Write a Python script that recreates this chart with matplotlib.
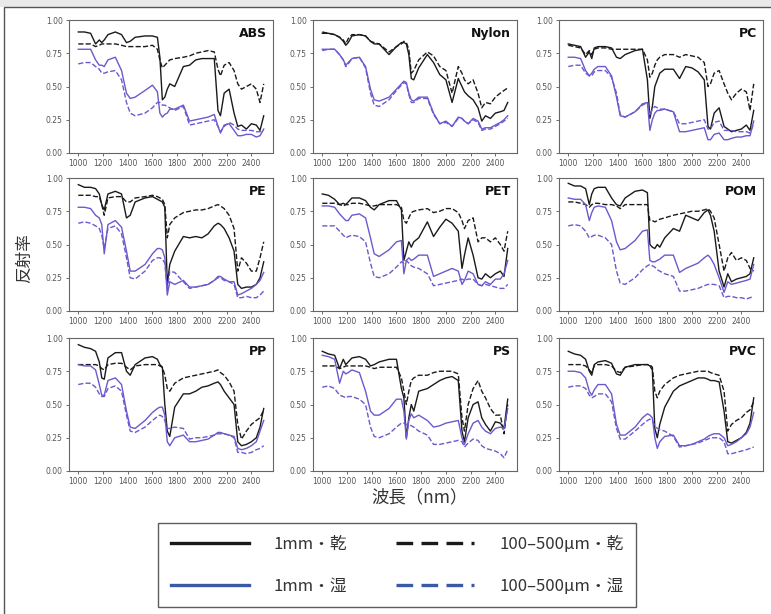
import matplotlib.pyplot as plt
from matplotlib.lines import Line2D
from matplotlib.patches import Rectangle

plt.rcParams['font.family'] = ['Noto Sans CJK JP', 'DejaVu Sans']

# 波長（共通グリッド, nm）
wavelength = [1000, 1050, 1100, 1140, 1170, 1190, 1210, 1240, 1300, 1350,
              1390, 1420, 1460, 1540, 1600, 1640, 1660, 1680, 1700, 1720,
              1740, 1780, 1850, 1900, 1950, 2000, 2050, 2100, 2130, 2150,
              2180, 2220, 2260, 2290, 2320, 2360, 2400, 2440, 2470, 2500]

# ABS
abs_dry_1mm = [.91, .91, .90, .82, .85, .83, .85, .89, .91, .89,
               .83, .84, .87, .88, .88, .87, .72, .40, .42, .48,
               .52, .50, .65, .66, .70, .71, .71, .71, .32, .28,
               .45, .48, .30, .20, .21, .18, .22, .21, .17, .28]
abs_dry_fine = [.82, .82, .82, .80, .81, .82, .82, .82, .82, .81,
                .80, .80, .80, .80, .81, .78, .70, .64, .66, .68,
                .70, .71, .72, .73, .75, .76, .77, .76, .63, .58,
                .66, .68, .62, .52, .48, .50, .52, .48, .38, .52]
abs_wet_1mm = [.78, .78, .78, .70, .66, .66, .65, .70, .72, .62,
               .45, .41, .42, .47, .51, .46, .30, .27, .29, .30,
               .33, .33, .36, .24, .25, .26, .27, .29, .20, .15,
               .21, .22, .17, .13, .13, .14, .14, .12, .13, .18]
abs_wet_fine = [.67, .68, .68, .65, .63, .60, .60, .61, .62, .55,
                .38, .30, .28, .30, .34, .38, .38, .36, .36, .35,
                .34, .32, .35, .21, .22, .23, .24, .25, .20, .16,
                .20, .23, .21, .18, .17, .17, .17, .16, .16, .17]

# Nylon
nylon_dry_1mm = [.90, .90, .89, .87, .84, .81, .83, .88, .89, .88,
                 .84, .82, .82, .74, .80, .83, .83, .82, .74, .56,
                 .55, .64, .74, .68, .59, .55, .38, .56, .50, .46,
                 .43, .40, .34, .24, .28, .26, .30, .31, .32, .38]
nylon_dry_fine = [.91, .90, .89, .87, .85, .82, .86, .89, .89, .88,
                  .84, .83, .82, .76, .80, .82, .84, .83, .78, .60,
                  .62, .70, .76, .73, .65, .62, .45, .65, .60, .55,
                  .52, .55, .45, .34, .38, .37, .42, .45, .47, .49]
nylon_wet_1mm = [.78, .78, .78, .74, .70, .66, .68, .71, .72, .65,
                 .48, .40, .39, .42, .48, .52, .54, .53, .45, .40,
                 .39, .42, .42, .30, .22, .24, .20, .27, .26, .24,
                 .22, .26, .24, .18, .19, .19, .21, .23, .25, .28]
nylon_wet_fine = [.77, .78, .78, .74, .70, .65, .67, .71, .72, .64,
                  .45, .36, .35, .40, .47, .51, .53, .52, .44, .38,
                  .38, .41, .41, .29, .22, .23, .20, .26, .26, .24,
                  .22, .25, .23, .17, .18, .18, .20, .22, .24, .26]

# PC
pc_dry_1mm = [.82, .81, .80, .72, .76, .71, .79, .80, .80, .79,
              .72, .71, .74, .77, .78, .55, .26, .35, .50, .55,
              .60, .63, .63, .56, .65, .64, .61, .55, .20, .18,
              .30, .34, .20, .18, .16, .17, .18, .21, .17, .32]
pc_dry_fine = [.81, .80, .79, .74, .77, .74, .78, .79, .79, .78,
               .78, .78, .78, .78, .78, .70, .57, .60, .66, .70,
               .72, .74, .74, .72, .74, .73, .72, .68, .50, .52,
               .60, .62, .52, .45, .40, .45, .48, .46, .32, .52]
pc_wet_1mm = [.72, .72, .71, .62, .58, .60, .63, .65, .65, .58,
              .42, .28, .27, .31, .37, .38, .17, .25, .30, .32,
              .32, .33, .31, .16, .16, .17, .18, .19, .10, .10,
              .14, .15, .10, .10, .11, .12, .12, .13, .13, .24]
pc_wet_fine = [.65, .66, .66, .60, .58, .58, .61, .62, .62, .57,
               .45, .29, .27, .31, .36, .38, .28, .33, .35, .34,
               .33, .33, .31, .22, .22, .23, .24, .25, .18, .18,
               .23, .24, .17, .17, .17, .16, .16, .16, .15, .22]

# PE
pe_dry_1mm = [.95, .93, .93, .92, .88, .80, .76, .88, .90, .88,
              .70, .72, .82, .85, .86, .84, .83, .82, .78, .20,
              .35, .45, .56, .55, .56, .55, .58, .64, .66, .65,
              .62, .55, .45, .20, .17, .18, .18, .20, .25, .37]
pe_dry_fine = [.87, .87, .87, .86, .86, .80, .72, .85, .86, .86,
               .82, .82, .85, .86, .87, .86, .85, .84, .80, .55,
               .65, .70, .74, .75, .76, .76, .77, .79, .80, .79,
               .77, .72, .62, .30, .40, .36, .30, .30, .40, .52]
pe_wet_1mm = [.78, .78, .77, .72, .70, .65, .43, .65, .68, .63,
              .45, .30, .30, .35, .43, .47, .47, .46, .40, .12,
              .22, .20, .23, .18, .18, .19, .20, .23, .26, .26,
              .24, .22, .22, .12, .13, .15, .17, .20, .23, .29]
pe_wet_fine = [.66, .67, .66, .64, .62, .57, .47, .62, .64, .58,
               .40, .25, .24, .30, .38, .40, .40, .39, .36, .16,
               .30, .29, .22, .17, .18, .19, .20, .23, .25, .25,
               .23, .22, .20, .10, .10, .11, .10, .10, .12, .15]

# PET
pet_dry_1mm = [.88, .87, .84, .80, .81, .80, .82, .85, .85, .83,
               .78, .76, .80, .83, .83, .76, .38, .45, .52, .48,
               .52, .55, .67, .56, .63, .69, .66, .60, .32, .42,
               .55, .42, .25, .24, .28, .25, .28, .30, .26, .47]
pet_dry_fine = [.81, .81, .81, .80, .79, .80, .80, .81, .81, .80,
                .79, .79, .80, .80, .80, .78, .68, .66, .70, .74,
                .75, .76, .77, .74, .75, .77, .77, .74, .68, .62,
                .68, .70, .52, .55, .55, .52, .55, .50, .45, .60]
pet_wet_1mm = [.79, .79, .78, .73, .70, .68, .68, .72, .73, .70,
               .55, .43, .41, .46, .52, .53, .28, .38, .40, .38,
               .39, .42, .42, .26, .28, .30, .32, .30, .20, .23,
               .30, .28, .20, .19, .22, .20, .24, .24, .28, .38]
pet_wet_fine = [.64, .64, .64, .60, .57, .55, .56, .57, .56, .52,
                .36, .26, .25, .28, .33, .37, .36, .38, .36, .34,
                .33, .32, .28, .19, .20, .21, .22, .23, .24, .23,
                .24, .24, .20, .19, .20, .19, .18, .17, .17, .20]

# POM
pom_dry_1mm = [.96, .94, .94, .92, .80, .88, .92, .93, .93, .85,
               .80, .79, .85, .90, .91, .89, .50, .48, .47, .50,
               .48, .55, .62, .60, .72, .70, .68, .74, .76, .72,
               .60, .30, .18, .28, .22, .24, .25, .26, .28, .40]
pom_dry_fine = [.82, .82, .81, .80, .78, .80, .81, .81, .80, .80,
                .79, .77, .80, .80, .80, .80, .68, .68, .67, .68,
                .69, .70, .72, .73, .74, .75, .75, .76, .77, .75,
                .70, .50, .30, .40, .44, .38, .40, .38, .32, .30]
pom_wet_1mm = [.85, .84, .84, .80, .68, .74, .78, .79, .78, .68,
               .52, .46, .47, .53, .60, .61, .38, .37, .37, .38,
               .39, .42, .42, .29, .32, .34, .36, .40, .42, .40,
               .35, .25, .14, .22, .20, .21, .22, .23, .24, .35]
pom_wet_fine = [.64, .65, .64, .60, .55, .56, .57, .57, .55, .50,
                .30, .21, .20, .25, .31, .34, .35, .34, .33, .31,
                .30, .28, .26, .15, .15, .16, .17, .19, .20, .20,
                .20, .19, .10, .11, .11, .10, .10, .09, .10, .11]

# PP
pp_dry_1mm = [.95, .93, .92, .90, .82, .70, .69, .85, .89, .89,
              .75, .72, .80, .85, .86, .84, .80, .78, .50, .30,
              .26, .48, .58, .58, .60, .63, .64, .66, .67, .65,
              .60, .55, .50, .22, .19, .20, .22, .25, .33, .47]
pp_dry_fine = [.80, .80, .80, .80, .79, .77, .76, .80, .81, .81,
               .78, .76, .79, .80, .80, .80, .79, .78, .72, .62,
               .60, .66, .70, .71, .72, .73, .74, .75, .76, .74,
               .72, .67, .60, .35, .24, .30, .35, .38, .40, .46]
pp_wet_1mm = [.80, .79, .79, .76, .65, .57, .57, .68, .70, .65,
              .45, .33, .32, .38, .44, .47, .48, .48, .42, .22,
              .19, .25, .27, .22, .22, .23, .24, .27, .29, .29,
              .28, .27, .26, .17, .16, .17, .19, .22, .30, .38]
pp_wet_fine = [.65, .66, .66, .63, .58, .56, .56, .62, .64, .60,
               .42, .30, .29, .33, .38, .41, .42, .41, .38, .32,
               .32, .33, .32, .24, .25, .25, .26, .27, .28, .28,
               .28, .27, .25, .14, .14, .13, .14, .16, .17, .19]

# PS
ps_dry_1mm = [.90, .88, .87, .77, .84, .80, .82, .85, .86, .84,
              .79, .80, .82, .84, .84, .62, .55, .25, .40, .50,
              .45, .60, .62, .65, .68, .70, .71, .68, .30, .22,
              .40, .50, .52, .40, .35, .30, .37, .36, .32, .54]
ps_dry_fine = [.79, .79, .79, .77, .78, .79, .79, .79, .79, .79,
               .78, .77, .78, .78, .78, .70, .60, .50, .60, .68,
               .70, .72, .72, .74, .75, .75, .75, .73, .40, .30,
               .50, .62, .68, .60, .55, .47, .42, .42, .28, .50]
ps_wet_1mm = [.87, .86, .84, .66, .75, .73, .74, .76, .74, .60,
              .45, .42, .42, .47, .54, .54, .45, .24, .38, .43,
              .40, .42, .38, .33, .34, .36, .37, .38, .25, .20,
              .28, .36, .38, .33, .30, .28, .32, .33, .32, .47]
ps_wet_fine = [.63, .64, .62, .57, .56, .55, .56, .56, .54, .50,
               .33, .26, .25, .28, .33, .36, .36, .35, .35, .34,
               .33, .30, .27, .20, .20, .21, .22, .23, .22, .18,
               .21, .24, .23, .19, .17, .16, .15, .13, .10, .16]

# PVC
pvc_dry_1mm = [.90, .88, .87, .84, .75, .72, .80, .82, .83, .81,
               .73, .72, .78, .80, .80, .80, .79, .76, .32, .25,
               .35, .48, .60, .64, .66, .68, .70, .70, .69, .68,
               .68, .67, .45, .22, .21, .23, .25, .29, .36, .55]
pvc_dry_fine = [.80, .80, .80, .79, .76, .74, .79, .80, .80, .79,
                .75, .74, .78, .79, .80, .80, .80, .78, .60, .55,
                .60, .65, .70, .72, .73, .74, .75, .75, .75, .74,
                .73, .72, .60, .30, .35, .38, .40, .44, .46, .52]
pvc_wet_1mm = [.75, .75, .74, .70, .60, .57, .61, .65, .65, .58,
               .35, .27, .27, .33, .40, .43, .42, .40, .25, .17,
               .22, .26, .27, .19, .19, .20, .22, .24, .26, .27,
               .28, .28, .25, .19, .20, .22, .25, .28, .33, .44]
pvc_wet_fine = [.63, .64, .64, .62, .57, .55, .56, .58, .58, .52,
                .32, .24, .24, .30, .35, .38, .39, .38, .34, .32,
                .31, .30, .26, .18, .19, .20, .21, .23, .24, .25,
                .25, .25, .22, .13, .13, .14, .15, .16, .17, .18]

panels = [
    ('ABS', abs_dry_1mm, abs_dry_fine, abs_wet_1mm, abs_wet_fine),
    ('Nylon', nylon_dry_1mm, nylon_dry_fine, nylon_wet_1mm, nylon_wet_fine),
    ('PC', pc_dry_1mm, pc_dry_fine, pc_wet_1mm, pc_wet_fine),
    ('PE', pe_dry_1mm, pe_dry_fine, pe_wet_1mm, pe_wet_fine),
    ('PET', pet_dry_1mm, pet_dry_fine, pet_wet_1mm, pet_wet_fine),
    ('POM', pom_dry_1mm, pom_dry_fine, pom_wet_1mm, pom_wet_fine),
    ('PP', pp_dry_1mm, pp_dry_fine, pp_wet_1mm, pp_wet_fine),
    ('PS', ps_dry_1mm, ps_dry_fine, ps_wet_1mm, ps_wet_fine),
    ('PVC', pvc_dry_1mm, pvc_dry_fine, pvc_wet_1mm, pvc_wet_fine),
]

x_ticks = [1000, 1200, 1400, 1600, 1800, 2000, 2200, 2400]
y_ticks = [0.00, 0.25, 0.50, 0.75, 1.00]

W, H = 771, 614
fig = plt.figure(figsize=(W / 100, H / 100), dpi=100)
fig.patch.set_facecolor('white')

# 上部の帯と外枠
fig.patches.append(Rectangle((0, 1 - 7 / H), 1, 7 / H, transform=fig.transFigure,
                             facecolor='#e9e9e9', edgecolor='none', zorder=0))
fig.patches.append(Rectangle((4 / W, -0.01), 1.0, 1 - 7 / H + 0.01, transform=fig.transFigure,
                             facecolor='none', edgecolor='#555555', lw=1.0, zorder=1))

black = '#1a1a1a'
purple = '#6a5acd'
col_left = [69, 313, 559]
row_top = [20, 178, 338]
aw, ah = 204, 133

for i, (name, dry1, dryf, wet1, wetf) in enumerate(panels):
    r, c = divmod(i, 3)
    ax = fig.add_axes([col_left[c] / W, 1 - (row_top[r] + ah) / H, aw / W, ah / H])
    ax.plot(wavelength, dry1, color=black, lw=1.0)
    ax.plot(wavelength, dryf, color=black, lw=1.0, ls='--')
    ax.plot(wavelength, wet1, color=purple, lw=1.0)
    ax.plot(wavelength, wetf, color=purple, lw=1.0, ls='--')
    ax.set_ylim(0, 1)
    ax.set_xticks(x_ticks)
    ax.set_yticks(y_ticks)
    ax.set_yticklabels([f'{v:.2f}' for v in y_ticks])
    ax.tick_params(labelsize=5.5, length=2.5, width=0.6, colors='#555555', pad=2)
    for lab in ax.get_xticklabels() + ax.get_yticklabels():
        lab.set_family('DejaVu Sans')
    for s in ax.spines.values():
        s.set_color('#666666')
        s.set_linewidth(0.8)
    ax.text(0.97, 0.95, name, transform=ax.transAxes, ha='right', va='top',
            fontsize=9, fontweight='bold', family='DejaVu Sans', color='#111111')

fig.text(25 / W, 1 - 258 / H, '反射率', rotation=90, ha='center', va='center',
         fontsize=12, color='#333333')
fig.text(420 / W, 1 - 497 / H, '波長（nm）', ha='center', va='center',
         fontsize=12.5, color='#333333')

blue = '#3b5aa6'
handles = [
    Line2D([], [], color=black, lw=2.4),
    Line2D([], [], color=blue, lw=2.4),
    Line2D([], [], color=black, lw=2.4, ls=(0, (5, 2.5))),
    Line2D([], [], color=blue, lw=2.4, ls=(0, (5, 2.5))),
]
labels = ['1mm・乾', '1mm・湿', '100–500µm・乾', '100–500µm・湿']
leg = fig.legend(handles, labels, ncol=2, loc='center',
                 bbox_to_anchor=(397 / W, 1 - 565 / H),
                 fontsize=12, handlelength=4.7, handletextpad=1.5,
                 columnspacing=2.9, labelspacing=1.5, borderpad=0.75,
                 fancybox=False, frameon=True)
leg.get_frame().set_edgecolor('#333333')
leg.get_frame().set_linewidth(1.0)
for t in leg.get_texts():
    t.set_color('#333333')

fig.savefig('out.png', dpi=100)
